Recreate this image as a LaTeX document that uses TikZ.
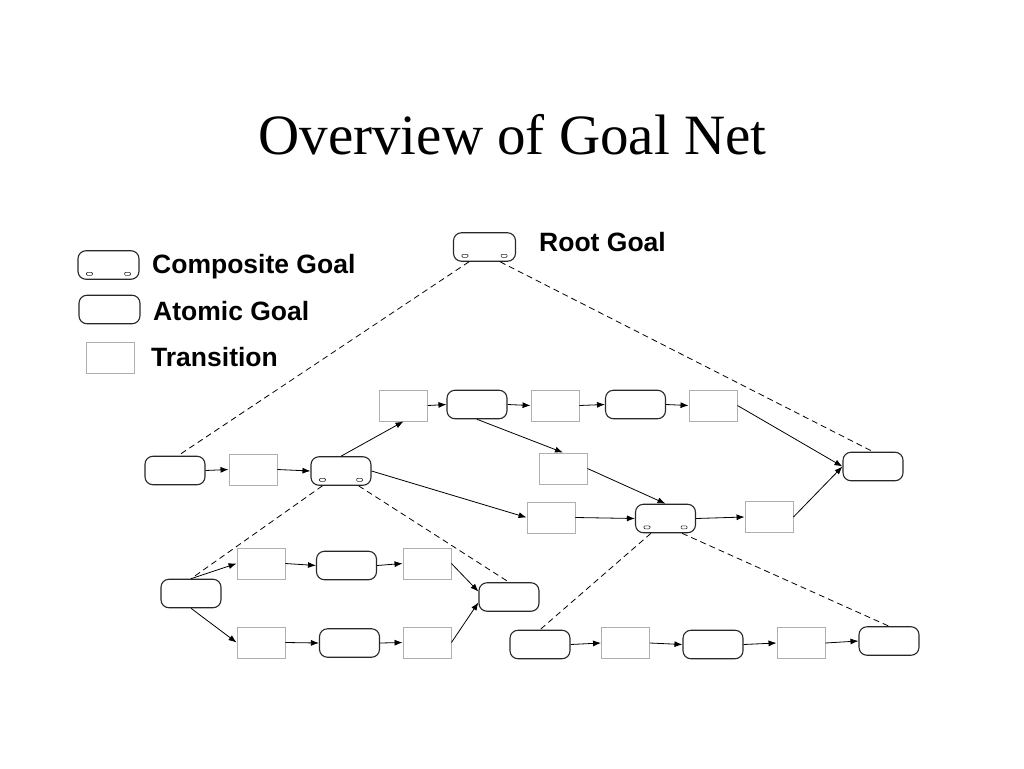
\documentclass[tikz,border=0pt]{standalone}
\usepackage{fontspec}
\setmainfont{Liberation Serif}
\newfontfamily\lsans{Liberation Sans}
\usetikzlibrary{arrows.meta}
\definecolor{goalc}{RGB}{40,40,40}
\definecolor{transc}{RGB}{175,175,175}
\newcommand\cmarks[1]{%
  \draw[mk] ([shift={(9,-7.5)}]#1.south west) rectangle ++(6,3);
  \draw[mk] ([shift={(-15,-7.5)}]#1.south east) rectangle ++(6,3);}
\begin{document}
\begin{tikzpicture}[x=1pt,y=-1pt,
  goal/.style={draw=goalc, line width=1.1pt, rounded corners=8pt, minimum width=60pt, minimum height=28.5pt, inner sep=0pt, fill=white},
  trans/.style={draw=transc, line width=0.9pt, minimum width=48pt, minimum height=31pt, inner sep=0pt, fill=white},
  link/.style={draw=black, line width=0.8pt, -{Latex[length=8pt,width=6pt]}},
  sub/.style={draw=black, line width=0.8pt, dash pattern=on 6pt off 4pt},
  mk/.style={draw=goalc, line width=0.6pt, rounded corners=1pt},
  lbl/.style={font=\lsans\bfseries\fontsize{26.5}{30}\selectfont, anchor=base west, inner sep=0pt}]
\fill[white] (0,0) rectangle (1024,768);
\useasboundingbox (0,0) rectangle (1024,768);

\node[font=\fontsize{57}{60}\selectfont, anchor=base, inner sep=0pt] (title) at (512.5,154) {Overview of Goal Net};

% legend
\node[goal, minimum width=61pt] (LC) at (108.5,265) {};
\cmarks{LC}
\node[goal, minimum width=61pt] (LA) at (109.5,309.5) {};
\node[trans] (LT) at (110,358) {};
\node[lbl] (lc) at (152,273) {Composite Goal};
\node[lbl] (la) at (153,320.5) {Atomic Goal};
\node[lbl] (lt) at (151,366) {Transition};

% root
\node[goal, minimum width=62pt] (R) at (484.5,247) {};
\cmarks{R}
\node[lbl] (rl) at (539,251.5) {Root Goal};

% nodes
\node[goal] (G1) at (175,470.5) {};
\node[trans] (T1) at (253,469.5) {};
\node[goal] (G2) at (341,471) {};
\cmarks{G2}
\node[trans] (T2) at (403.5,405.5) {};
\node[goal] (G3) at (477,404.5) {};
\node[trans] (T3) at (555,405.5) {};
\node[goal] (G4) at (635.5,404.5) {};
\node[trans] (T4) at (713,405.5) {};
\node[trans] (T5) at (563,468.5) {};
\node[trans] (T6) at (551,517.5) {};
\node[goal] (G5) at (665.5,518.5) {};
\cmarks{G5}
\node[trans] (T7) at (769,517) {};
\node[goal] (G6) at (873,466.5) {};
\node[goal] (G7) at (191,593.5) {};
\node[trans] (T8) at (261,563.5) {};
\node[goal] (G8) at (346.5,565.5) {};
\node[trans] (T9) at (427,563.5) {};
\node[goal] (G9) at (509,597) {};
\node[trans] (T10) at (261,642.5) {};
\node[goal] (G10) at (349.5,643) {};
\node[trans] (T11) at (427,642.5) {};
\node[goal] (G11) at (540,644.5) {};
\node[trans] (T12) at (625.5,643) {};
\node[goal] (G12) at (713,644.5) {};
\node[trans] (T13) at (801,643) {};
\node[goal] (G13) at (889,641) {};

% decomposition (dashed)
\draw[sub] ([xshift=16pt]R.south west) -- ([xshift=3pt]G1.north);
\draw[sub] ([xshift=-16pt]R.south east) -- (G6.north);
\draw[sub] ([xshift=12pt]G2.south west) -- (G7.north);
\draw[sub] ([xshift=-13pt]G2.south east) -- (G9.north);
\draw[sub] ([xshift=16pt]G5.south west) -- (G11.north);
\draw[sub] ([xshift=-14pt]G5.south east) -- (G13.north);

% arrows
\draw[link] (G1.east) -- (T1.west);
\draw[link] (T1.east) -- (G2.west);
\draw[link] (G2.north) -- (T2.south);
\draw[link] (T2.east) -- (G3.west);
\draw[link] (G3.east) -- (T3.west);
\draw[link] (T3.east) -- (G4.west);
\draw[link] (G4.east) -- (T4.west);
\draw[link] (T4.east) -- (G6.west);
\draw[link] (G3.south) -- (T5.north);
\draw[link] (T5.east) -- (G5.north);
\draw[link] (G2.east) -- (T6.west);
\draw[link] (T6.east) -- (G5.west);
\draw[link] (G5.east) -- (T7.west);
\draw[link] (T7.east) -- (G6.west);
\draw[link] (G7.north) -- (T8.west);
\draw[link] (G7.south) -- (T10.west);
\draw[link] (T8.east) -- (G8.west);
\draw[link] (G8.east) -- (T9.west);
\draw[link] (T9.east) -- (G9.170);
\draw[link] (T10.east) -- (G10.west);
\draw[link] (G10.east) -- (T11.west);
\draw[link] (T11.east) -- (G9.190);
\draw[link] (G11.east) -- (T12.west);
\draw[link] (T12.east) -- (G12.west);
\draw[link] (G12.east) -- (T13.west);
\draw[link] (T13.east) -- (G13.west);
\end{tikzpicture}
\end{document}
